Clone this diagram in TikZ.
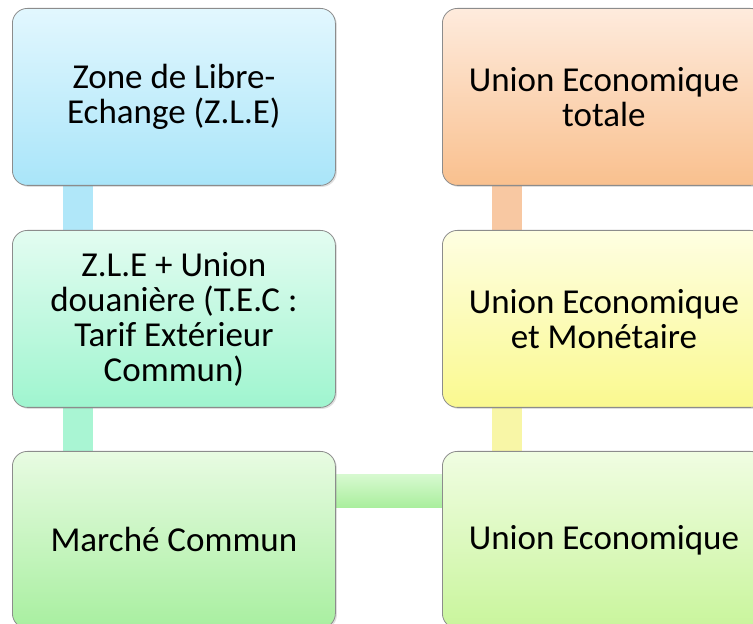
\documentclass[tikz,border=0pt]{standalone}
\usepackage{fontspec}
\setmainfont{Carlito}
\usetikzlibrary{backgrounds,shadows}
\definecolor{c1t}{HTML}{E2F7FE}\definecolor{c1b}{HTML}{A9E5F9}
\definecolor{c2t}{HTML}{E3FCF1}\definecolor{c2b}{HTML}{9FF5CF}
\definecolor{c3t}{HTML}{E8FBE2}\definecolor{c3b}{HTML}{A8EFA0}
\definecolor{c4t}{HTML}{F0FDE2}\definecolor{c4b}{HTML}{C9F59C}
\definecolor{c5t}{HTML}{FEFEE2}\definecolor{c5b}{HTML}{FAF98F}
\definecolor{c6t}{HTML}{FEEBDD}\definecolor{c6b}{HTML}{F9C08E}
\definecolor{k1}{HTML}{B0E7F9}\definecolor{k2}{HTML}{A9F5D3}
\definecolor{k4}{HTML}{F8F6A6}\definecolor{k5}{HTML}{F8C8A2}
\definecolor{kh}{HTML}{A9EE9C}\definecolor{kht}{HTML}{D6F9CF}
\tikzset{
  box/.style={draw=black!45, line width=0.8pt, rounded corners=15pt,
    minimum width=323pt, minimum height=177pt, inner sep=0pt,
    align=center, anchor=north west,
    font=\fontsize{35}{35}\selectfont,
    drop shadow={shadow xshift=1.5pt, shadow yshift=-1.5pt, opacity=0.25}},
  conn/.style={line width=30pt},
}
\begin{document}
\begin{tikzpicture}[x=1pt,y=1pt]
\useasboundingbox (0,0) rectangle (753,624);
\clip (0,0) rectangle (753,624);
\node[box, top color=c1t, bottom color=c1b] (l1) at (12,616) {Zone de Libre-\\Echange (Z.L.E)};
\node[box, top color=c2t, bottom color=c2b] (l2) at (12,394) {Z.L.E + Union\\douanière (T.E.C :\\Tarif Extérieur\\Commun)};
\node[box, top color=c3t, bottom color=c3b] (l3) at (12,173) {Marché Commun};
\node[box, top color=c4t, bottom color=c4b] (r3) at (442,173) {Union Economique};
\node[box, top color=c5t, bottom color=c5b] (r2) at (442,394) {Union Economique\\et Monétaire};
\node[box, top color=c6t, bottom color=c6b] (r1) at (442,616) {Union Economique\\totale};
\begin{scope}[on background layer]
\draw[conn, k1] ([xshift=66pt]l1.south west) -- ([xshift=66pt]l2.north west);
\draw[conn, k2] ([xshift=66pt]l2.south west) -- ([xshift=66pt]l3.north west);
\path[top color=kht, bottom color=kh] ([yshift=-24pt]l3.north east) rectangle ([yshift=-57pt]r3.north west);
\draw[conn, k4] ([xshift=65pt]r3.north west) -- ([xshift=65pt]r2.south west);
\draw[conn, k5] ([xshift=65pt]r2.north west) -- ([xshift=65pt]r1.south west);
\end{scope}
\end{tikzpicture}
\end{document}
